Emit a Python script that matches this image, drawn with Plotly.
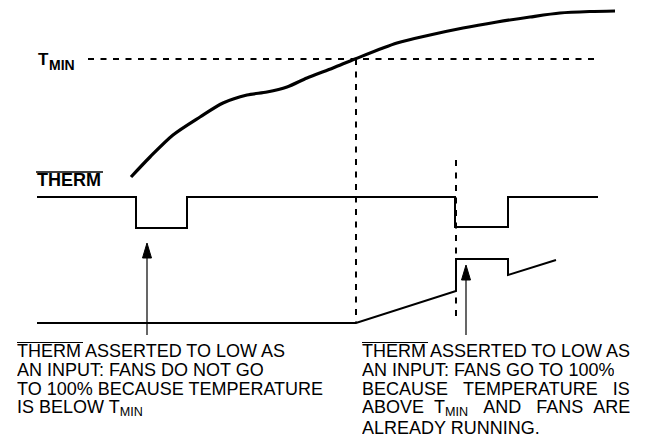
import plotly.graph_objects as go

# ---- data (schematic units: x = time, y = level, screen-like, y grows downward) ----
temp_x = [131, 150, 173, 200, 223, 247, 267, 287, 307, 333, 355, 397, 430, 463, 497, 530, 560, 590, 615]
temp_y = [177, 157, 135, 117, 103, 95, 92, 87, 78, 68, 59, 43, 35, 28, 22, 17, 13, 11.5, 11]

tmin_level = 59
tmin_x = [88, 600]

therm_x = [37, 136, 136, 187, 187, 455, 455, 508, 508, 598]
therm_y = [197, 197, 228, 228, 197, 197, 227, 227, 197, 197]

fan_x = [37, 356, 456, 456, 508, 508, 556]
fan_y = [323, 323, 291, 259, 259, 275, 260]

marker1_x = 356
marker1_y = [59, 323]
marker2_x = 456
marker2_y = [160, 320]

arrow_x = [147, 466]
arrow_tip_y = [243, 265]
arrow_tail_y = [335, 335]

left_lines = [
    "THERM ASSERTED TO LOW AS",
    "AN INPUT: FANS DO NOT GO",
    "TO 100% BECAUSE TEMPERATURE",
    "IS BELOW T<sub>MIN</sub>",
]
nb = "\u00a0"
right_lines = [
    "THERM ASSERTED TO LOW AS",
    "AN INPUT: FANS GO TO 100%",
    "BECAUSE" + nb * 3 + "TEMPERATURE" + nb * 3 + "IS",
    "ABOVE" + nb * 2 + "T<sub>MIN</sub>" + nb * 3 + "AND" + nb * 3 + "FANS" + nb * 2 + "ARE",
    "ALREADY RUNNING.",
]

FONT = "Liberation Sans, Arial, Helvetica, sans-serif"
PAGE_OFFSET = 8  # default page margin around the plot div
W, H = 647, 437

fig = go.Figure()

# T_MIN dashed level
fig.add_trace(go.Scatter(x=tmin_x, y=[tmin_level, tmin_level], mode="lines",
                         line=dict(color="black", width=2, dash="6px,6.5px"), hoverinfo="skip"))
# vertical dashed markers
fig.add_trace(go.Scatter(x=[marker1_x, marker1_x], y=marker1_y, mode="lines",
                         line=dict(color="black", width=2, dash="6px,6.5px"), hoverinfo="skip"))
fig.add_trace(go.Scatter(x=[marker2_x, marker2_x], y=marker2_y, mode="lines",
                         line=dict(color="black", width=2, dash="6px,6.5px"), hoverinfo="skip"))
# temperature curve
fig.add_trace(go.Scatter(x=temp_x, y=temp_y, mode="lines",
                         line=dict(color="black", width=3.2, shape="spline", smoothing=0.8),
                         hoverinfo="skip"))
# THERM signal
fig.add_trace(go.Scatter(x=therm_x, y=therm_y, mode="lines",
                         line=dict(color="black", width=2), hoverinfo="skip"))
# fan speed
fig.add_trace(go.Scatter(x=fan_x, y=fan_y, mode="lines",
                         line=dict(color="black", width=2), hoverinfo="skip"))

# arrows
head_len, head_half = 15, 4.5
for ax_, tip, tail in zip(arrow_x, arrow_tip_y, arrow_tail_y):
    fig.add_trace(go.Scatter(x=[ax_, ax_], y=[tip + head_len, tail], mode="lines",
                             line=dict(color="black", width=1.2), hoverinfo="skip"))
    fig.add_trace(go.Scatter(x=[ax_, ax_ - head_half, ax_ + head_half, ax_],
                             y=[tip, tip + head_len, tip + head_len, tip],
                             mode="lines", fill="toself", fillcolor="black",
                             line=dict(color="black", width=1), hoverinfo="skip"))

annotations = []
# T_MIN label
annotations.append(dict(x=36, y=59, text="<b>T</b>", xanchor="left", yanchor="middle",
                        showarrow=False, font=dict(family=FONT, size=17, color="black")))
annotations.append(dict(x=47, y=64.5, text="<b>MIN</b>", xanchor="left", yanchor="middle",
                        showarrow=False, font=dict(family=FONT, size=14, color="black")))
# THERM label
annotations.append(dict(x=35, y=179.5, text="<b>THERM</b>", xanchor="left", yanchor="middle",
                        showarrow=False, font=dict(family=FONT, size=18, color="black")))

line_step = 19.25
for i, t in enumerate(left_lines):
    annotations.append(dict(x=16, y=350.5 + i * line_step, text=t, xanchor="left", yanchor="middle",
                            height=18, borderpad=0,
                            showarrow=False, font=dict(family=FONT, size=18, color="black")))
for i, t in enumerate(right_lines):
    annotations.append(dict(x=361, y=350.5 + i * line_step, text=t, xanchor="left", yanchor="middle",
                            height=18, borderpad=0,
                            showarrow=False, font=dict(family=FONT, size=18, color="black")))

shapes = [
    dict(type="line", x0=36, x1=103, y0=172, y1=172, line=dict(color="black", width=1.5)),
    dict(type="line", x0=17, x1=83, y0=342.5, y1=342.5, line=dict(color="black", width=1.2)),
    dict(type="line", x0=362, x1=428, y0=342.5, y1=342.5, line=dict(color="black", width=1.2)),
]

fig.update_layout(
    width=W - PAGE_OFFSET, height=H - PAGE_OFFSET,
    margin=dict(l=0, r=0, t=0, b=0),
    paper_bgcolor="white", plot_bgcolor="white",
    showlegend=False,
    xaxis=dict(range=[PAGE_OFFSET, W], visible=False, fixedrange=True),
    yaxis=dict(range=[H, PAGE_OFFSET], visible=False, fixedrange=True),
    annotations=annotations,
    shapes=shapes,
)

fig.write_html("out.html")
